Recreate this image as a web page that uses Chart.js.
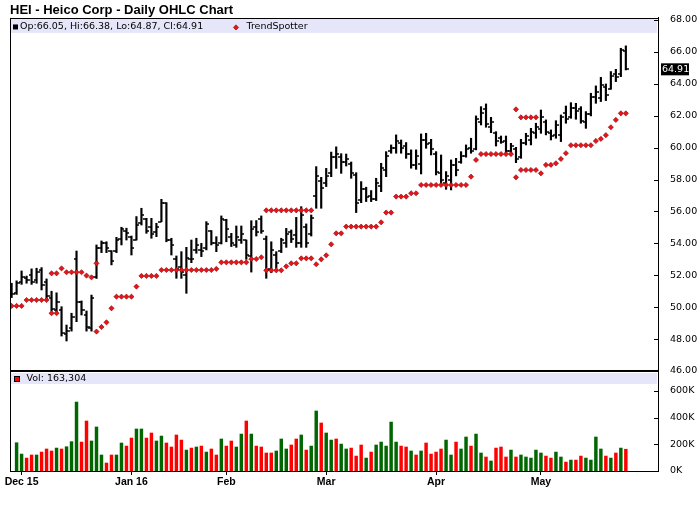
<!DOCTYPE html>
<html>
<head>
<meta charset="utf-8">
<script src="https://cdn.jsdelivr.net/npm/chart.js@4.4.1/dist/chart.umd.min.js"></script>
<style>
html,body{margin:0;padding:0;background:#fff;}
#wrap{position:relative;width:700px;height:512px;}
</style>
</head>
<body>
<div id="wrap"><canvas id="c" width="700" height="512"></canvas></div>
<script>
// ---------- DATA ----------
const titleText = 'HEI - Heico Corp - Daily OHLC Chart';
const monthLabels = ['Dec 15', 'Jan 16', 'Feb', 'Mar', 'Apr', 'May'];
const monthIdx = [2, 24, 43, 63, 85, 106];
const priceTicks = [46, 48, 50, 52, 54, 56, 58, 60, 62, 64, 66, 68];
const volTicks = [0, 200, 400, 600];

const opens = [51.25,50.90,51.60,51.85,52.00,51.70,52.30,51.60,50.60,49.80,
49.80,48.30,48.70,53.00,50.30,49.50,48.70,51.90,53.70,54.00,
53.50,53.50,54.25,54.80,54.40,54.21,55.30,55.50,55.00,54.70,
55.36,56.50,54.20,53.00,52.50,52.00,53.00,53.60,53.60,53.70,
54.75,54.00,54.00,55.45,54.40,53.90,54.20,54.20,53.20,55.00,
55.50,54.30,52.40,53.30,53.50,54.00,54.70,54.50,54.00,55.00,
54.60,57.00,57.90,57.80,58.40,59.40,59.40,59.10,59.00,58.30,
56.70,57.40,57.00,56.80,57.60,58.60,59.80,60.00,60.30,60.10,
59.60,58.90,59.00,60.50,60.30,59.60,58.40,57.80,58.00,58.90,
59.10,59.50,60.00,59.90,61.60,62.40,61.30,60.90,60.60,60.40,
59.80,59.90,59.40,60.30,60.50,60.90,61.20,61.60,60.90,60.80,
60.80,62.20,61.90,62.50,62.40,61.60,62.10,63.20,63.10,63.80,
63.70,64.60,64.60,66.05];
const highs = [51.50,51.65,52.27,51.95,52.40,52.44,52.48,51.77,51.00,50.90,
50.03,48.88,49.62,53.52,50.39,49.76,50.76,53.90,54.15,54.10,
53.54,54.38,55.01,54.95,54.46,55.68,56.20,55.57,55.57,55.26,
56.76,56.55,54.32,53.21,53.48,53.75,54.21,54.32,54.00,55.36,
54.80,54.42,55.72,55.51,54.63,55.09,55.09,54.21,55.42,55.43,
55.72,54.46,54.10,53.48,54.32,54.94,54.84,55.63,56.30,55.22,
55.78,58.81,58.14,58.70,59.72,60.05,59.62,59.60,59.10,58.43,
57.87,57.52,57.31,58.08,59.02,59.75,60.17,60.80,60.48,60.32,
59.86,59.86,60.86,60.90,60.52,59.75,59.54,58.50,59.23,59.33,
59.75,60.17,60.59,61.99,62.57,62.74,61.90,61.00,60.73,60.73,
60.27,60.02,60.52,60.90,61.21,61.53,62.36,61.74,61.11,61.69,
62.05,62.61,62.82,62.78,62.57,62.26,63.41,63.87,64.41,63.99,
64.77,64.91,66.23,66.38];
const lows = [50.60,50.80,51.43,51.50,51.43,51.50,51.08,50.45,49.76,49.60,
48.19,47.88,48.50,49.09,49.51,48.50,48.50,51.80,53.42,53.42,
52.65,53.42,53.90,54.21,53.27,54.21,55.15,54.63,54.32,54.42,
55.36,54.10,53.27,51.81,51.81,50.87,52.79,53.38,53.17,53.59,
53.90,53.48,53.96,54.10,53.80,53.75,54.00,53.00,52.20,54.46,
54.63,51.81,52.16,52.44,53.42,53.75,54.05,53.75,53.75,53.75,
54.46,56.20,56.20,57.56,58.18,58.70,58.39,58.85,58.08,55.93,
56.55,56.62,56.62,56.68,57.24,58.18,59.65,59.65,59.65,59.33,
58.71,58.64,58.35,59.96,59.54,58.29,57.66,57.39,57.35,58.23,
59.02,59.40,59.65,59.86,61.42,61.28,60.94,60.10,60.27,59.60,
59.54,59.06,59.33,60.17,60.17,60.59,60.90,60.80,60.48,60.59,
60.38,61.53,61.84,61.78,61.53,61.21,61.99,62.78,62.89,62.95,
63.66,64.14,64.45,64.87];
const closes = [50.80,51.50,51.90,51.70,51.60,52.20,51.40,50.70,49.90,50.30,
48.40,48.50,49.40,50.35,49.80,48.75,50.60,53.70,54.00,53.70,
52.90,54.20,54.90,54.63,53.70,55.15,55.80,54.80,54.60,55.00,
56.50,54.20,53.90,52.40,52.20,53.10,53.00,53.90,53.50,55.20,
54.00,53.90,55.50,54.90,54.00,54.40,54.60,53.30,54.90,54.70,
54.80,52.30,53.60,52.80,54.20,54.60,54.30,54.00,55.80,54.00,
55.60,58.20,57.50,58.20,59.40,59.60,59.10,59.30,58.40,56.50,
57.40,56.90,56.80,57.80,58.70,59.50,60.00,60.40,60.00,59.60,
58.90,59.50,60.50,60.20,59.90,58.50,58.00,58.20,58.90,58.60,
59.50,59.90,59.80,61.80,62.20,61.50,61.60,60.40,60.35,59.80,
60.10,59.30,60.30,60.70,61.00,61.30,61.90,61.00,60.70,61.40,
61.90,61.80,62.50,62.30,61.70,62.10,63.20,63.50,63.90,63.30,
64.50,64.40,66.10,64.91];

// TrendSpotter (support row and the occasional second row)
const trendA = [50.08,50.08,50.08,50.45,50.45,50.45,50.45,50.45,49.62,49.62,
null,null,null,null,null,null,null,48.47,48.76,49.05,
49.93,50.66,50.66,50.66,50.66,51.29,51.96,51.96,51.96,51.96,
52.33,52.33,52.33,52.33,52.33,52.33,52.33,52.33,52.33,52.33,
52.33,52.40,52.81,52.81,52.81,52.81,52.81,52.81,53.02,53.02,
53.13,52.31,52.31,52.31,52.31,52.56,52.75,52.75,53.06,53.06,
53.06,52.69,53.00,53.25,53.94,54.63,54.63,55.05,55.05,55.05,
55.05,55.05,55.05,55.05,55.32,55.93,55.93,56.93,56.93,56.93,
57.14,57.14,57.66,57.66,57.66,57.66,57.66,57.66,57.66,57.66,
57.66,57.66,58.18,59.23,59.60,59.60,59.60,59.60,59.60,59.60,
59.60,58.14,58.60,58.60,58.60,58.60,58.39,58.92,58.92,59.02,
59.29,59.65,60.15,60.15,60.15,60.15,60.15,60.42,60.55,60.78,
61.28,61.74,62.15,62.15];
const trendB = [null,null,null,null,null,null,null,null,52.12,52.12,
52.43,52.19,52.19,52.19,52.19,51.98,51.87,52.75,null,null,
null,null,null,null,null,null,null,null,null,null,
null,null,null,null,null,null,null,null,null,null,
null,null,null,null,null,null,null,null,null,null,
null,56.07,56.07,56.07,56.07,56.07,56.07,56.07,56.07,56.07,
56.07,null,null,null,null,null,null,null,null,null,
null,null,null,null,null,null,null,null,null,null,
null,null,null,null,null,null,null,null,null,null,
null,null,null,null,null,null,null,null,null,null,
null,62.40,61.90,61.90,61.90,61.90,null,null,null,null,
null,null,null,null,null,null,null,null,null,null,
null,null,null,null];

// Volume in thousands, and whether the day closed up (1) or down (0)
const volumeK = [null,212,127,97,120,120,142,165,150,172,
165,182,220,517,217,375,225,330,120,60,
120,120,210,187,247,315,315,247,285,225,
262,210,180,270,232,157,172,180,187,142,
165,120,240,187,225,180,277,375,277,187,
180,135,135,150,240,165,195,240,270,157,
187,450,360,285,232,240,202,165,172,112,
195,97,142,195,217,187,367,217,187,180,
150,120,150,210,127,142,165,232,120,217,
165,255,187,277,135,105,75,172,180,105,
157,105,120,105,97,157,135,112,97,142,
105,67,82,82,112,97,82,255,165,112,
97,135,172,163.304];
const volUp = [null,1,1,0,0,1,0,0,0,1,
0,1,1,1,0,0,1,1,1,0,
0,1,1,0,0,1,1,0,0,1,
1,0,0,0,0,1,0,1,0,1,
0,0,1,0,0,1,1,0,1,0,
0,0,0,1,1,1,0,0,1,0,
1,1,0,1,1,0,1,1,0,0,
0,1,0,1,1,1,1,1,0,0,
1,0,1,0,0,0,0,1,1,0,
1,1,0,1,1,0,1,0,0,0,
1,0,1,1,1,1,1,0,0,1,
1,0,1,0,0,1,1,1,1,0,
1,0,1,0];

// ---------- CHART ----------
const last = closes.length - 1;
const FONT = "'DejaVu Sans', sans-serif";

function tickCanvas(side) {
  const c = document.createElement('canvas');
  c.width = 6; c.height = 2;
  const g = c.getContext('2d');
  g.fillStyle = 'rgba(0,0,0,0.75)';
  if (side === 'left') g.fillRect(0, 0, 3, 2); else g.fillRect(3, 0, 3, 2);
  return c;
}
const openTick = tickCanvas('left');
const closeTick = tickCanvas('right');

const decor = {
  id: 'decor',
  beforeDatasetsDraw(chart) {
    const {ctx, chartArea} = chart;
    const {left, right, top} = chartArea;
    const sep = chart.scales.yv.top;
    ctx.save();
    ctx.fillStyle = '#e6e6fa';
    ctx.fillRect(left + 1, top + 1, right - left - 2, 14);
    ctx.fillRect(left + 1, sep + 2, right - left - 2, 11);
    ctx.font = '9.5px ' + FONT;
    ctx.textBaseline = 'middle';
    ctx.fillStyle = '#000';
    // price legend
    ctx.fillRect(left + 3, top + 6.5, 5, 5);
    ctx.fillText('Op:' + opens[last].toFixed(2) + ', Hi:' + highs[last].toFixed(2) +
      ', Lo:' + lows[last].toFixed(2) + ', Cl:' + closes[last].toFixed(2), left + 10, top + 9);
    // trendspotter legend marker
    ctx.fillStyle = '#e8141a';
    ctx.strokeStyle = '#8b0000';
    ctx.lineWidth = 0.6;
    ctx.beginPath();
    const dx = 236, dy = top + 9.5;
    ctx.moveTo(dx - 2.6, dy); ctx.lineTo(dx, dy - 2.6); ctx.lineTo(dx + 2.6, dy); ctx.lineTo(dx, dy + 2.6); ctx.closePath();
    ctx.fill(); ctx.stroke();
    ctx.fillStyle = '#000';
    ctx.fillText('TrendSpotter', 246.5, top + 9);
    // volume legend
    ctx.fillStyle = '#ff0000';
    ctx.fillRect(left + 4.5, sep + 5.5, 5, 5);
    ctx.strokeStyle = '#000';
    ctx.lineWidth = 1;
    ctx.strokeRect(left + 4.5, sep + 5.5, 5, 5);
    ctx.fillStyle = '#000';
    const v = Math.round(volumeK[last] * 1000).toLocaleString('en-US');
    ctx.fillText('Vol: ' + v, left + 16.5, sep + 8);
    ctx.restore();
  },
  afterDraw(chart) {
    const {ctx, chartArea} = chart;
    const {left, right, top, bottom} = chartArea;
    const sep = chart.scales.yv.top;
    ctx.save();
    ctx.fillStyle = '#000';
    ctx.fillRect(left, Math.round(top), right - left, 1);
    ctx.fillRect(left, top, 1, bottom - top);
    ctx.fillRect(left, sep - 1, right - left + 1, 2);
    // inward tick marks on the right axes
    ['y', 'yv'].forEach(id => {
      const s = chart.scales[id];
      s.ticks.forEach(t => {
        const py = Math.round(s.getPixelForValue(t.value));
        ctx.fillRect(right - 4, py, 4, 1);
      });
    });
    // last close marker on the price axis
    const py = chart.scales.y.getPixelForValue(closes[last]);
    ctx.fillRect(right + 3, py - 6, 28, 12);
    ctx.fillStyle = '#fff';
    ctx.font = '9.5px ' + FONT;
    ctx.textBaseline = 'middle';
    ctx.fillText(closes[last].toFixed(2), right + 4, py + 0.5);
    ctx.restore();
  }
};

const pts = arr => arr.map((v, i) => ({x: i, y: v}));

new Chart(document.getElementById('c'), {
  type: 'bar',
  data: {
    datasets: [
      {
        type: 'bar', label: 'HiLo', yAxisID: 'y', xAxisID: 'x',
        data: highs.map((h, i) => ({x: i, y: [lows[i], h]})),
        backgroundColor: '#000', borderWidth: 0, barThickness: 1.5, grouped: false, order: 2
      },
      {
        type: 'line', label: 'Open', yAxisID: 'y', xAxisID: 'x', showLine: false,
        data: pts(opens), pointStyle: openTick, pointRadius: 2, pointHoverRadius: 2, order: 1
      },
      {
        type: 'line', label: 'Close', yAxisID: 'y', xAxisID: 'x', showLine: false,
        data: pts(closes), pointStyle: closeTick, pointRadius: 2, pointHoverRadius: 2, order: 1
      },
      {
        type: 'line', label: 'TrendSpotter', yAxisID: 'y', xAxisID: 'x', showLine: false,
        data: pts(trendA), pointStyle: 'rectRot', pointRadius: 2.6,
        pointBackgroundColor: '#e8141a', pointBorderColor: '#8b0000', pointBorderWidth: 0.6, order: 0
      },
      {
        type: 'line', label: 'TrendSpotter 2', yAxisID: 'y', xAxisID: 'x', showLine: false,
        data: pts(trendB), pointStyle: 'rectRot', pointRadius: 2.6,
        pointBackgroundColor: '#e8141a', pointBorderColor: '#8b0000', pointBorderWidth: 0.6, order: 0
      },
      {
        type: 'bar', label: 'Volume', yAxisID: 'yv', xAxisID: 'x',
        data: pts(volumeK),
        backgroundColor: volUp.map(u => u ? '#006600' : '#ff0000'),
        borderWidth: 0, barThickness: 2.8, grouped: false, order: 3
      }
    ]
  },
  options: {
    responsive: false,
    animation: false,
    events: [],
    layout: {padding: {left: 10, right: 0, top: 0, bottom: 16}},
    plugins: {
      legend: {display: false},
      tooltip: {enabled: false},
      title: {
        display: true, text: titleText, align: 'start', color: '#000',
        font: {family: "'Liberation Sans', Arial, sans-serif", size: 13, weight: 'bold', lineHeight: 1.15},
        padding: {top: 3, bottom: 0}
      }
    },
    scales: {
      x: {
        type: 'linear', position: 'bottom', min: -0.32, max: 129.44, offset: false,
        afterBuildTicks: s => { s.ticks = monthIdx.map(v => ({value: v})); },
        afterFit: s => { s.height = 25; },
        grid: {display: true, offset: false, drawOnChartArea: false, drawTicks: true, tickLength: 4, color: '#000'},
        border: {display: true, color: '#000', width: 1},
        ticks: {
          autoSkip: false, maxRotation: 0, padding: 1, color: '#000',
          font: {family: "'Liberation Sans', Arial, sans-serif", size: 10.5, weight: 'bold'},
          callback: (v, i) => monthLabels[i]
        }
      },
      y: {
        type: 'linear', position: 'right', stack: 'panels', stackWeight: 353,
        min: 46, max: 68.13,
        afterBuildTicks: s => { s.ticks = priceTicks.map(v => ({value: v})); },
        afterFit: s => { s.width = 42; },
        grid: {display: false},
        border: {display: true, color: '#000', width: 1},
        ticks: {padding: 4, color: '#000', font: {family: FONT, size: 9.5}, callback: v => v.toFixed(2)}
      },
      yv: {
        type: 'linear', position: 'right', stack: 'panels', stackWeight: 100,
        min: 0, max: 750,
        afterBuildTicks: s => { s.ticks = volTicks.map(v => ({value: v})); },
        afterFit: s => { s.width = 42; },
        grid: {display: false},
        border: {display: true, color: '#000', width: 1},
        ticks: {padding: 4, color: '#000', font: {family: FONT, size: 9.5}, callback: v => v + 'K'}
      }
    }
  },
  plugins: [decor]
});
</script>
</body>
</html>
